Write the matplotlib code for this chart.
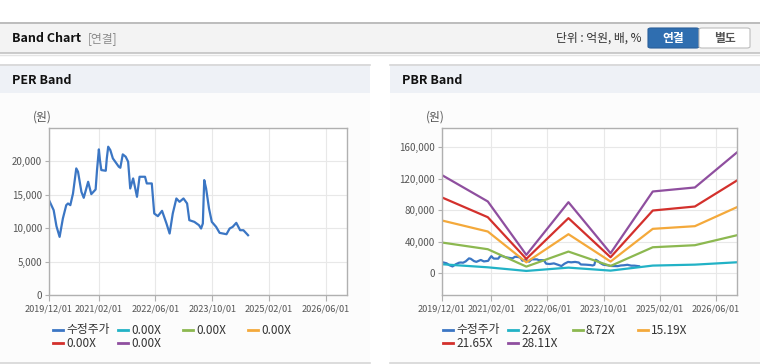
import numpy as np
import pandas as pd
import matplotlib
matplotlib.use("Agg")
import matplotlib.pyplot as plt
import matplotlib.dates as mdates
from matplotlib.patches import Rectangle, FancyBboxPatch
from matplotlib.lines import Line2D
from matplotlib.ticker import FuncFormatter

plt.rcParams['font.family'] = ['Noto Sans CJK KR', 'DejaVu Sans']

# adjusted share price
price_dates = ["2019-12-01", "2019-12-21", "2020-01-10", "2020-02-03", "2020-03-01",
               "2020-03-29", "2020-04-27", "2020-05-12", "2020-06-01", "2020-06-24",
               "2020-07-22", "2020-08-06", "2020-09-04", "2020-09-24", "2020-11-01",
               "2020-11-28", "2021-01-04", "2021-01-16", "2021-02-01", "2021-02-10",
               "2021-02-22", "2021-04-01", "2021-04-10", "2021-04-22", "2021-05-10",
               "2021-06-01", "2021-07-22", "2021-08-04", "2021-08-25", "2021-09-19",
               "2021-10-10", "2021-10-28", "2021-11-22", "2021-12-04", "2021-12-25",
               "2022-01-16", "2022-03-04", "2022-03-19", "2022-05-01", "2022-05-22",
               "2022-06-22", "2022-07-28", "2022-09-04", "2022-10-01", "2022-10-28",
               "2022-11-28", "2022-12-25", "2023-01-28", "2023-02-28", "2023-03-19",
               "2023-05-01", "2023-06-10", "2023-06-28", "2023-07-13", "2023-07-25",
               "2023-08-10", "2023-09-04", "2023-09-28", "2023-11-04", "2023-12-04",
               "2024-02-01", "2024-02-28", "2024-03-25", "2024-04-25", "2024-05-28",
               "2024-06-25", "2024-08-04"]
price = [14200, 13450, 12700, 10300, 8700,
         11450, 13450, 13700, 13450, 15200,
         18950, 18450, 15450, 14550, 16950,
         15100, 15800, 18700, 21800, 20200,
         18700, 18600, 20450, 22200, 21700,
         20450, 19200, 19050, 21050, 20700,
         19950, 15950, 17450, 16450, 14700,
         17700, 17700, 16700, 16700, 12200,
         11800, 12600, 10700, 9200, 12200,
         14450, 13950, 14450, 13700, 11200,
         10950, 10450, 9950, 10700, 17200,
         15950, 12950, 10950, 10200, 9300,
         9100, 9950, 10200, 10800, 9700,
         9700, 8950]

# PBR band lines
band_dates = ["2019-12-01", "2021-01-01", "2021-12-01", "2022-12-01",
              "2023-12-01", "2024-12-01", "2025-12-01", "2026-12-01"]
pbr_226 = [11500, 7600, 3000, 7200, 3400, 9800, 11000, 14000]
pbr_872 = [39100, 30600, 8500, 27600, 9300, 33100, 35700, 48400]
pbr_1519 = [67100, 53100, 14000, 49700, 14900, 56500, 59900, 84100]
pbr_2165 = [96400, 71300, 18300, 70100, 20400, 79800, 84900, 118000]
pbr_2811 = [124800, 91300, 23400, 90400, 25500, 104000, 109100, 153700]

x_ticks = ["2019/12/01", "2021/02/01", "2022/06/01", "2023/10/01", "2025/02/01", "2026/06/01"]
per_labels = ["수정주가", "0.00X", "0.00X", "0.00X", "0.00X", "0.00X"]
pbr_labels = ["수정주가", "2.26X", "8.72X", "15.19X", "21.65X", "28.11X"]
colors = ["#3b76c4", "#22b2c6", "#8cb850", "#f4a93b", "#d3302c", "#8f4f9f"]

W, H = 760, 364
fig = plt.figure(figsize=(W / 100, H / 100), dpi=100)


def fx(x):
    return x / W


def fy(y):
    return 1 - y / H


def rect(x0, y0, x1, y1, color, z=0):
    fig.add_artist(Rectangle((fx(x0), fy(y1)), fx(x1) - fx(x0), fy(y0) - fy(y1),
                             transform=fig.transFigure, facecolor=color,
                             edgecolor='none', zorder=z))


def hline(y, x0, x1, color, lw=1.0):
    fig.add_artist(Line2D([fx(x0), fx(x1)], [fy(y), fy(y)], transform=fig.transFigure,
                          color=color, lw=lw, zorder=2))


# page header
rect(0, 22, W, 53, "#f3f3f3")
hline(22.5, 0, W, "#b3b3b3", 1.2)
hline(53, 0, W, "#c2c2c2", 1.2)
hline(54.5, 0, W, "#e4e4e4", 1.0)
fig.text(fx(12), fy(38.5), "Band Chart", fontsize=9, fontweight='bold', color="#111111", va='center')
fig.text(fx(88), fy(38.5), "[연결]", fontsize=8.5, color="#8a8a8a", va='center')
fig.text(fx(642), fy(38.5), "단위 : 억원, 배, %", fontsize=8.5, color="#333333", va='center', ha='right')
fig.add_artist(FancyBboxPatch((fx(648), fy(48)), fx(51), 20 / H, boxstyle="round,pad=0,rounding_size=0.004",
                              transform=fig.transFigure, facecolor="#2f6eb0", edgecolor="#2a5f9a", lw=0.8, zorder=3))
fig.add_artist(FancyBboxPatch((fx(699), fy(48)), fx(51), 20 / H, boxstyle="round,pad=0,rounding_size=0.004",
                              transform=fig.transFigure, facecolor="#ffffff", edgecolor="#bdbdbd", lw=0.8, zorder=3))
fig.text(fx(673.5), fy(38.5), "연결", fontsize=8.5, fontweight='bold', color="white", va='center', ha='center', zorder=4)
fig.text(fx(724.5), fy(38.5), "별도", fontsize=8.5, fontweight='bold', color="#555555", va='center', ha='center', zorder=4)

# panels
for x0, x1, title in [(0, 370, "PER Band"), (390, 760, "PBR Band")]:
    rect(x0, 64, x1, 93, "#eef1f6")
    rect(x0, 93, x1, 362, "#fcfcfc")
    hline(64.5, x0, x1, "#d6d6d6", 1.2)
    hline(362.5, x0, x1, "#d6d6d6", 1.2)
    fig.text(fx(x0 + 12), fy(80), title, fontsize=9, fontweight='bold', color="#111111", va='center')

price_x = pd.to_datetime(price_dates)
band_x = pd.to_datetime(band_dates)
tick_x = pd.to_datetime(x_ticks, format="%Y/%m/%d")
comma = FuncFormatter(lambda v, p: f"{int(v):,}")


def style_axes(ax):
    ax.set_facecolor("white")
    for s in ax.spines.values():
        s.set_color("#b0b0b0")
        s.set_linewidth(1.0)
    ax.set_xlim(pd.Timestamp("2019-12-01"), pd.Timestamp("2026-12-01"))
    ax.set_xticks(tick_x)
    ax.xaxis.set_major_formatter(mdates.DateFormatter("%Y/%m/%d"))
    ax.yaxis.set_major_formatter(comma)
    ax.grid(True, color="#e8e8e8", lw=0.8)
    ax.set_axisbelow(True)
    ax.tick_params(axis='x', length=4, color="#b0b0b0", labelsize=6.6, labelcolor="#555555", pad=3)
    ax.tick_params(axis='y', length=3, color="#b0b0b0", labelsize=7, labelcolor="#555555", pad=2)


# PER band
ax1 = fig.add_axes([fx(49), fy(295), fx(298), 167 / H])
style_axes(ax1)
ax1.plot(price_x, price, color=colors[0], lw=1.6)
ax1.set_ylim(0, 25000)
ax1.set_yticks([0, 5000, 10000, 15000, 20000])
fig.text(fx(33), fy(117), "(원)", fontsize=8.5, color="#555555", va='center')

# PBR band
ax2 = fig.add_axes([fx(442), fy(295), fx(295), 167 / H])
style_axes(ax2)
ax2.plot(price_x, price, color=colors[0], lw=1.6)
for vals, c in zip([pbr_226, pbr_872, pbr_1519, pbr_2165, pbr_2811], colors[1:]):
    ax2.plot(band_x, vals, color=c, lw=1.6)
ax2.set_ylim(-27600, 184700)
ax2.set_yticks([0, 40000, 80000, 120000, 160000])
fig.text(fx(426), fy(117), "(원)", fontsize=8.5, color="#555555", va='center')

# legends
for x0, labels in [(53, per_labels), (443, pbr_labels)]:
    for i, (lab, c) in enumerate(zip(labels, colors)):
        row, col = divmod(i, 4)
        lx = x0 + col * 65
        ly = 330 + row * 13.3
        fig.add_artist(Line2D([fx(lx), fx(lx + 10)], [fy(ly), fy(ly)], transform=fig.transFigure,
                              color=c, lw=2.0, zorder=3))
        fig.text(fx(lx + 13), fy(ly), lab, fontsize=8.5, color="#333333", va='center')

fig.savefig("out.png", dpi=100)
